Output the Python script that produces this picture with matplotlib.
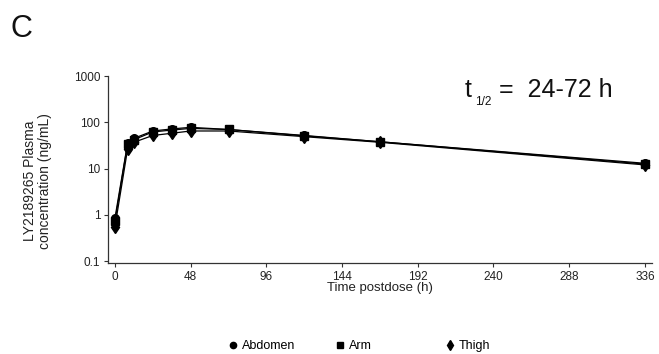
import numpy as np
import matplotlib.pyplot as plt
from matplotlib.lines import Line2D

plt.rcParams['font.family'] = ['Liberation Sans', 'DejaVu Sans']

time_h = [0, 8, 12, 24, 36, 48, 72, 120, 168, 336]
abdomen = [0.85, 35, 45, 65, 72, 78, 70, 52, 38, 13]
arm = [0.72, 34, 42, 62, 68, 74, 70, 51, 38, 12.5]
thigh = [0.55, 26, 37, 52, 58, 65, 65, 49, 37, 12]
xticks = [0, 48, 96, 144, 192, 240, 288, 336]
yticks = [0.1, 1, 10, 100, 1000]
ytick_labels = ['0.1', '1', '10', '100', '1000']

W, H = 659, 354
fig = plt.figure(figsize=(6.59, 3.54), dpi=100)
ax = fig.add_axes([108 / W, 0.257, 544 / W, 0.528])

ax.plot(time_h, abdomen, '-o', color='black', lw=0.9, ms=5.5)
ax.plot(time_h, arm, '-s', color='black', lw=0.9, ms=5.5)
ax.plot(time_h, thigh, '-d', color='black', lw=0.9, ms=6)

ax.set_yscale('log')
ax.set_xlim(-4.4, 340.5)
ax.set_ylim(0.0905, 1000)
ax.set_xticks(xticks)
ax.set_yticks(yticks)
ax.set_yticklabels(ytick_labels)
ax.minorticks_off()
ax.tick_params(labelsize=8.5, length=3, width=0.8, color='#333333', labelcolor='#222222', pad=2.5)
for s in ['top', 'right']:
    ax.spines[s].set_visible(False)
for s in ['left', 'bottom']:
    ax.spines[s].set_linewidth(0.9)
    ax.spines[s].set_color('#333333')

ax.set_xlabel('Time postdose (h)', fontsize=9.5, color='#222222')
ax.xaxis.set_label_coords(0.5, -19 / 187)
ax.set_ylabel('LY2189265 Plasma\nconcentration (ng/mL)', fontsize=10, color='#222222',
              linespacing=1.1)
ax.yaxis.set_label_coords(-56 / 544, 0.44)

# panel letter and half-life note
fig.text(11 / W, 1 - 37 / H, 'C', fontsize=22, color='#111111', va='baseline')
fig.text(465 / W, 1 - 97 / H, 't', fontsize=18, color='#111111', va='baseline')
fig.text(475 / W, 1 - 105 / H, '1/2', fontsize=8.5, color='#111111', va='baseline')
fig.text(499 / W, 1 - 97 / H, '=  24-72 h', fontsize=18, color='#111111', va='baseline')

# legend: three evenly spaced entries
entries = [('o', 'Abdomen', 233), ('s', 'Arm', 340), ('d', 'Thigh', 450)]
for mk, name, px in entries:
    h = Line2D([], [], ls='none', marker=mk, color='black', ms=4.5 if mk != 'd' else 5)
    fig.legend([h], [name], loc='center left', bbox_to_anchor=((px - 4) / W, 1 - 346 / H),
               frameon=False, fontsize=9, handlelength=0.6, handletextpad=0.4,
               borderpad=0, borderaxespad=0)

fig.savefig('out.png', dpi=100)
